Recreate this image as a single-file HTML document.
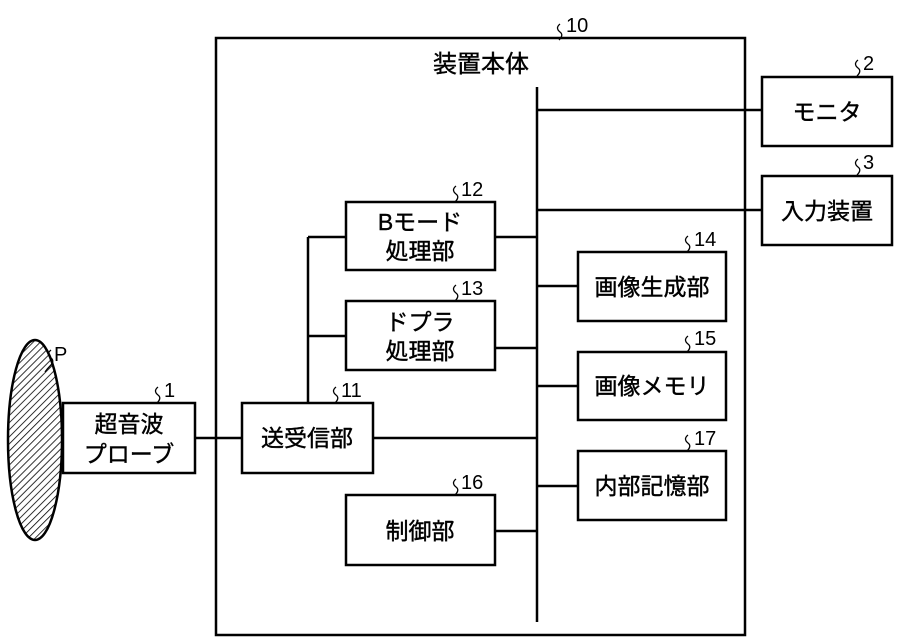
<!DOCTYPE html>
<html><head><meta charset="utf-8"><style>
html,body{margin:0;padding:0;background:#fff;}
svg{display:block;}
text{font-family:"Liberation Sans","Noto Sans CJK JP",sans-serif;fill:#000;}
.t{font-size:23px;text-anchor:middle;stroke:#000;stroke-width:0.4;}
.n{font-size:20px;}
</style></head><body>
<svg width="902" height="637" viewBox="0 0 902 637" xmlns="http://www.w3.org/2000/svg">
<defs>
<pattern id="h" width="5" height="5" patternUnits="userSpaceOnUse" patternTransform="rotate(45)">
<line x1="0" y1="0" x2="0" y2="5" stroke="#000" stroke-width="1.6"/>
</pattern>
</defs>
<g fill="none" stroke="#000" stroke-width="2.5">
<rect x="216" y="38" width="529" height="597"/>
<line x1="537" y1="87" x2="537" y2="622"/>
<rect x="762" y="77" width="130" height="69"/>
<rect x="762" y="176" width="130" height="69"/>
<line x1="537" y1="110" x2="762" y2="110"/>
<line x1="537" y1="210" x2="762" y2="210"/>
<rect x="346" y="202" width="149" height="68"/>
<rect x="346" y="301" width="149" height="69"/>
<line x1="495" y1="237" x2="537" y2="237"/>
<line x1="495" y1="348" x2="537" y2="348"/>
<line x1="308" y1="237" x2="346" y2="237"/>
<line x1="308" y1="336" x2="346" y2="336"/>
<line x1="308" y1="237" x2="308" y2="403"/>
<rect x="578" y="252" width="148" height="69"/>
<rect x="578" y="352" width="148" height="68"/>
<rect x="578" y="451" width="148" height="69"/>
<line x1="537" y1="286" x2="578" y2="286"/>
<line x1="537" y1="386" x2="578" y2="386"/>
<line x1="537" y1="486" x2="578" y2="486"/>
<rect x="242" y="403" width="131" height="70"/>
<line x1="373" y1="438" x2="537" y2="438"/>
<rect x="346" y="495" width="149" height="70"/>
<line x1="495" y1="531" x2="537" y2="531"/>
<rect x="63" y="403" width="132" height="70"/>
<line x1="195" y1="438" x2="242" y2="438"/>
</g>
<ellipse cx="35" cy="440" rx="27" ry="100" fill="url(#h)" stroke="#000" stroke-width="2.5"/>
<g fill="none" stroke="#000" stroke-width="1.3">
<path d="M560 24 q-5 4 0 8 q4 3 -1 8"/>
<path d="M858 60 q-5 4 0 8 q4 3 -1 8"/>
<path d="M858 159 q-5 4 0 8 q4 3 -1 8"/>
<path d="M456 186 q-5 4 0 8 q4 3 -1 8"/>
<path d="M456 285 q-5 4 0 8 q4 3 -1 8"/>
<path d="M688 236 q-5 4 0 8 q4 3 -1 8"/>
<path d="M688 336 q-5 4 0 8 q4 3 -1 8"/>
<path d="M688 435 q-5 4 0 8 q4 3 -1 8"/>
<path d="M456 479 q-5 4 0 8 q4 3 -1 8"/>
<path d="M336 387 q-5 4 0 8 q4 3 -1 8"/>
<path d="M158 387 q-5 4 0 8 q4 3 -1 8"/>
<path d="M51 350 q-5 4 0 8 q4 3 -1 8 q-3 3 -5 6"/>
</g>
<g class="n">
<text x="566" y="32">10</text>
<text x="863" y="70">2</text>
<text x="863" y="169">3</text>
<text x="461" y="196">12</text>
<text x="461" y="295">13</text>
<text x="694" y="246">14</text>
<text x="694" y="345">15</text>
<text x="694" y="445">17</text>
<text x="461" y="489">16</text>
<text x="341" y="397">11</text>
<text x="164" y="397">1</text>
<text x="54" y="361">P</text>
</g>
<g class="t">
<text x="481" y="72" style="font-size:24px">装置本体</text>
<text x="827" y="120">モニタ</text>
<text x="827" y="219">入力装置</text>
<text x="420" y="230">Bモード</text>
<text x="420" y="259">処理部</text>
<text x="420" y="330">ドプラ</text>
<text x="420" y="359">処理部</text>
<text x="652" y="295">画像生成部</text>
<text x="652" y="394">画像メモリ</text>
<text x="652" y="494">内部記憶部</text>
<text x="307" y="446">送受信部</text>
<text x="420" y="539">制御部</text>
<text x="129" y="432">超音波</text>
<text x="129" y="462">プローブ</text>
</g>
</svg>
</body></html>
